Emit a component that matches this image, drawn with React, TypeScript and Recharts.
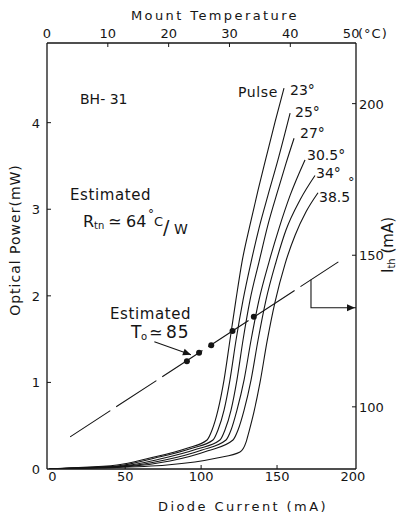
import React from "react";
import { ComposedChart, Line, XAxis, YAxis } from "recharts";

const currentTicks = [0, 50, 100, 150, 200];
const powerTicks = [0, 1, 2, 3, 4];
const tempTicks = [0, 10, 20, 30, 40, 50];
const ithTicks = [100, 150, 200];

// L-I curves: [diode current mA, optical power mW]
const pulse23: [number, number][] = [
  [0, 0], [11.7, 0.012], [44.6, 0.046], [66.3, 0.127], [90.7, 0.24], [103.9, 0.335],
  [107.2, 0.45], [111.1, 0.68], [115.1, 1.03], [119, 1.49], [122.9, 1.95], [126.9, 2.39],
  [132.2, 2.82], [137.5, 3.22], [142.7, 3.59], [148.7, 4.01], [154.6, 4.4],
];
const mount25: [number, number][] = [
  [0, 0], [15, 0.012], [44.6, 0.035], [69.6, 0.127], [94, 0.24], [107.8, 0.335],
  [111.1, 0.45], [115.1, 0.68], [119, 1.03], [123, 1.49], [127.6, 1.95], [132.9, 2.39],
  [138.1, 2.78], [144, 3.16], [150.6, 3.57], [158.6, 4.11],
];
const mount27: [number, number][] = [
  [0, 0], [17, 0.012], [48, 0.035], [72.9, 0.115], [97.3, 0.23], [112.4, 0.335],
  [115.7, 0.45], [119.7, 0.68], [123.6, 1.03], [127.6, 1.49], [132.2, 1.95], [138.1, 2.39],
  [144, 2.82], [150.6, 3.22], [155.9, 3.53], [161.2, 3.82],
];
const mount305: [number, number][] = [
  [0, 0], [20, 0.012], [50, 0.033], [76.2, 0.104], [100.6, 0.22], [116.4, 0.335],
  [119.7, 0.45], [123.6, 0.68], [128.3, 1.03], [132.9, 1.49], [138.1, 1.95], [144.7, 2.39],
  [151.3, 2.78], [158.6, 3.16], [168.4, 3.57],
];
const mount34: [number, number][] = [
  [0, 0], [24, 0.012], [53, 0.03], [79.5, 0.092], [104.5, 0.21], [121, 0.335],
  [124.3, 0.45], [128.3, 0.68], [132.9, 1.03], [137.5, 1.49], [142.7, 1.95], [149.3, 2.39],
  [155.9, 2.76], [165.2, 3.11], [175, 3.39],
];
const mount385: [number, number][] = [
  [0, 0], [33.4, 0.012], [77.5, 0.046], [110.5, 0.127], [125.6, 0.196], [129.6, 0.31],
  [131.5, 0.43], [134.8, 0.66], [138.8, 1.0], [143.4, 1.47], [148.7, 1.93], [155.3, 2.37],
  [161.9, 2.7], [169.1, 2.97], [177, 3.19],
];

// threshold current vs mount temperature (top / right axes)
const dotTemps = [23, 25, 27, 30.5, 34];
const dotIth = [115, 117.8, 120.3, 125, 129.7];
const lineTemps = [3.8, 47.9];
const lineIth = [90.1, 147.8];
const arrowTemps = [43.4, 43.4, 50.8];
const arrowIth = [141.9, 132.7, 132.7];

// pointer from the "T0" note to the dots (bottom / left axes)
const noteCurrent = [69.2, 93.3];
const notePower = [1.47, 1.32];

const INK = "#151515";
const FONT = "'DejaVu Sans', sans-serif";

const curves = [pulse23, mount25, mount27, mount305, mount34, mount385];

const toIP = (pts: [number, number][]) => pts.map(([i, p]) => ({ i, p }));
const zipT = (ts: number[], vs: number[]) => ts.map((t, k) => ({ t, ith: vs[k] }));

const BottomTick = (props: any) => {
  const { x, y, payload } = props;
  const v = payload.value;
  const edge = v === 0 || v === 200;
  return (
    <g>
      {!edge && <line x1={x} y1={y} x2={x} y2={y - 4} stroke={INK} />}
      <text x={x + (v === 0 ? 3 : 0)} y={y + 12} textAnchor="middle" fontSize={13} fill={INK} fontFamily={FONT}>
        {v}
      </text>
    </g>
  );
};

const TopTick = (props: any) => {
  const { x, y, payload } = props;
  const v = payload.value;
  const edge = v === 0 || v === 50;
  return (
    <g>
      {!edge && <line x1={x} y1={y} x2={x} y2={y + 4} stroke={INK} />}
      <text x={x} y={y - 5} textAnchor="middle" fontSize={13} fill={INK} fontFamily={FONT}>
        {v}
      </text>
    </g>
  );
};

const LeftTick = (props: any) => {
  const { x, y, payload } = props;
  const v = payload.value;
  return (
    <g>
      {v !== 0 && <line x1={x} y1={y} x2={x + 4} y2={y} stroke={INK} />}
      <text x={x - 7} y={y + 5} textAnchor="end" fontSize={13} fill={INK} fontFamily={FONT}>
        {v}
      </text>
    </g>
  );
};

const RightTick = (props: any) => {
  const { x, y, payload } = props;
  return (
    <g>
      <line x1={x} y1={y} x2={x - 4} y2={y} stroke={INK} />
      <text x={x + 3} y={y + 5} textAnchor="start" fontSize={13} fill={INK} fontFamily={FONT}>
        {payload.value}
      </text>
    </g>
  );
};

const ArrowEnd = (props: any) => {
  const { cx, cy, index } = props;
  if (index !== 2) return <g key={index} />;
  return <path key={index} d={`M${cx - 1},${cy} l-8,-3.5 l0,7 z`} fill={INK} />;
};

const NoteArrowEnd = (props: any) => {
  const { cx, cy, index } = props;
  if (index !== 1) return <g key={index} />;
  return (
    <path key={index} d={`M${cx},${cy} l-8,-3.5 l0,7 z`} fill={INK} transform={`rotate(20 ${cx} ${cy})`} />
  );
};

const t = (x: number, y: number, s: string, size = 14, extra: any = {}) => (
  <text x={x} y={y} fontSize={size} fill={INK} fontFamily={FONT} {...extra}>
    {s}
  </text>
);

export default function App() {
  return (
    <div style={{ position: "absolute", left: 0, top: 0, width: 398, height: 517, background: "#fff" }}>
      <ComposedChart width={398} height={517} margin={{ top: 0, right: 0, bottom: 0, left: 0 }}>
        <XAxis
          xAxisId="I"
          dataKey="i"
          type="number"
          orientation="bottom"
          domain={[-1.5, 202]}
          allowDataOverflow
          ticks={currentTicks}
          interval={0}
          height={48}
          tickSize={0}
          tickMargin={0}
          tick={<BottomTick />}
          axisLine={{ stroke: INK, strokeWidth: 1.3 }}
        />
        <XAxis
          xAxisId="T"
          dataKey="t"
          type="number"
          orientation="top"
          domain={[0, 50.8]}
          allowDataOverflow
          ticks={tempTicks}
          interval={0}
          height={43}
          tickSize={0}
          tickMargin={0}
          tick={<TopTick />}
          axisLine={{ stroke: INK, strokeWidth: 1.3 }}
        />
        <YAxis
          yAxisId="P"
          type="number"
          orientation="left"
          domain={[0, 4.92]}
          allowDataOverflow
          ticks={powerTicks}
          interval={0}
          width={47}
          tickSize={0}
          tickMargin={0}
          tick={<LeftTick />}
          axisLine={{ stroke: INK, strokeWidth: 1.3 }}
        />
        <YAxis
          yAxisId="Ith"
          type="number"
          orientation="right"
          domain={[79.5, 220]}
          allowDataOverflow
          ticks={ithTicks}
          interval={0}
          width={42}
          tickSize={0}
          tickMargin={0}
          tick={<RightTick />}
          axisLine={{ stroke: INK, strokeWidth: 1.3 }}
        />

        {curves.map((c, k) => (
          <Line
            key={k}
            data={toIP(c)}
            xAxisId="I"
            yAxisId="P"
            dataKey="p"
            type="monotone"
            stroke={INK}
            strokeWidth={1.1}
            dot={false}
            activeDot={false}
            isAnimationActive={false}
          />
        ))}

        <Line
          data={zipT(lineTemps, lineIth)}
          xAxisId="T"
          yAxisId="Ith"
          dataKey="ith"
          type="linear"
          stroke={INK}
          strokeWidth={1.1}
          strokeDasharray="48 7"
          dot={false}
          activeDot={false}
          isAnimationActive={false}
        />
        <Line
          data={zipT(dotTemps, dotIth)}
          xAxisId="T"
          yAxisId="Ith"
          dataKey="ith"
          stroke="none"
          dot={{ r: 3, fill: INK, stroke: "none" }}
          activeDot={false}
          isAnimationActive={false}
        />
        <Line
          data={zipT(arrowTemps, arrowIth)}
          xAxisId="T"
          yAxisId="Ith"
          dataKey="ith"
          type="linear"
          stroke={INK}
          strokeWidth={1.1}
          dot={<ArrowEnd />}
          activeDot={false}
          isAnimationActive={false}
        />
        <Line
          data={noteCurrent.map((i, k) => ({ i, p: notePower[k] }))}
          xAxisId="I"
          yAxisId="P"
          dataKey="p"
          type="linear"
          stroke={INK}
          strokeWidth={1.1}
          dot={<NoteArrowEnd />}
          activeDot={false}
          isAnimationActive={false}
        />
      </ComposedChart>

      <svg width={398} height={517} style={{ position: "absolute", left: 0, top: 0, pointerEvents: "none" }}>
        {t(215, 20, "Mount  Temperature", 13, { textAnchor: "middle", letterSpacing: 2.4 })}
        {t(358, 38, "(°C)", 13, { letterSpacing: 1 })}
        {t(243, 511, "Diode  Current (mA)", 13, { textAnchor: "middle", letterSpacing: 2.4 })}
        {t(20, 240, "Optical  Power(mW)", 14, {
          textAnchor: "middle",
          letterSpacing: 1,
          transform: "rotate(-90 20 240)",
        })}
        <text
          x={393}
          y={245}
          fontSize={15}
          fill={INK}
          fontFamily={FONT}
          textAnchor="middle"
          transform="rotate(-90 393 245)"
        >
          I<tspan fontSize={10} dy={2}>th</tspan>
          <tspan fontSize={15} dy={-2}> (mA)</tspan>
        </text>

        {t(80, 104, "BH- 31", 14)}

        {t(70, 200, "Estimated", 15, { letterSpacing: 0.6 })}
        {t(83, 227, "R", 16)}
        {t(94, 229, "tn", 10)}
        {t(108, 227, "≃", 16)}
        {t(126, 227, "64", 16)}
        {t(148, 218, "°", 12)}
        {t(154, 226, "C", 13)}
        {t(163, 234, "/", 19)}
        {t(174, 234, "W", 14)}

        {t(110, 319, "Estimated", 15, { letterSpacing: 0.6 })}
        {t(131, 338, "T", 17)}
        {t(141, 340, "o", 10)}
        {t(149, 338, "≃", 16)}
        {t(166, 338, "85", 17, { letterSpacing: 1 })}

        {t(238, 97, "Pulse", 14, { letterSpacing: 0.6 })}
        {t(290, 95, "23°", 14)}
        {t(295, 117, "25°", 14)}
        {t(300, 138, "27°", 14)}
        {t(307, 160, "30.5°", 14)}
        {t(316, 178, "34°", 14)}
        {t(319, 202, "38.5", 14)}
        {t(348, 186, "°", 13)}
      </svg>
    </div>
  );
}
